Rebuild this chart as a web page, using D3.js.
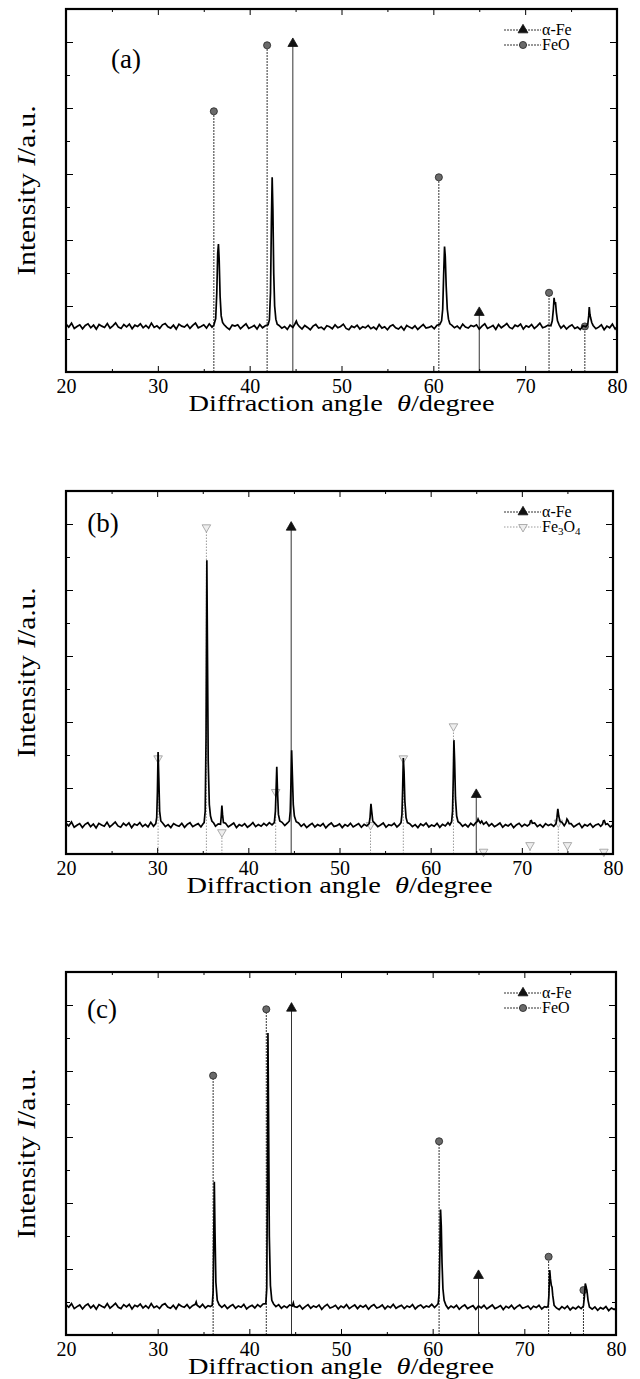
<!DOCTYPE html>
<html>
<head>
<meta charset="utf-8">
<script src="https://cdn.jsdelivr.net/npm/d3@7"></script>
<style>
  body { margin: 0; background: #fff; }
  svg { display: block; }
</style>
</head>
<body>
<svg id="graph"></svg>
<script>
const width = 640, height = 1379;

// x axis (2θ, degree) and y axis (arbitrary units)
const xMajor = [20, 30, 40, 50, 60, 70, 80];
const xMinor = [25, 35, 45, 55, 65, 75];
const yMajor = [2, 4, 6, 8, 10];
const yMinor = [1, 3, 5, 7, 9];

// measured scans, [angle, intensity]
const scanA = [
  [20.0,1.45],[20.3,1.36],[20.6,1.48],[20.9,1.32],[21.2,1.38],[21.5,1.43],[21.8,1.31],[22.1,1.41],[22.4,1.46],[22.7,1.34],
  [23.0,1.42],[23.3,1.30],[23.6,1.44],[23.9,1.39],[24.2,1.35],[24.5,1.47],[24.8,1.33],[25.1,1.40],[25.4,1.49],[25.7,1.36],
  [26.0,1.32],[26.3,1.44],[26.6,1.37],[26.9,1.45],[27.2,1.31],[27.5,1.42],[27.8,1.38],[28.1,1.46],[28.4,1.34],[28.7,1.41],
  [29.0,1.33],[29.3,1.48],[29.6,1.35],[29.9,1.40],[30.2,1.32],[30.5,1.43],[30.8,1.47],[31.1,1.37],[31.4,1.33],[31.7,1.42],
  [32.0,1.30],[32.3,1.45],[32.6,1.39],[32.9,1.36],[33.2,1.44],[33.5,1.32],[33.8,1.41],[34.1,1.48],[34.4,1.34],[34.7,1.38],
  [35.0,1.43],[35.3,1.33],[35.6,1.46],[35.9,1.36],[36.1,1.42],[36.3,1.62],[36.42,2.4],[36.52,3.6],[36.6,3.88],[36.68,3.4],
  [36.78,2.3],[36.9,1.7],[37.05,1.5],[37.2,1.44],[37.5,1.35],[37.8,1.29],[38.1,1.42],[38.4,1.39],[38.7,1.43],[39.0,1.31],
  [39.3,1.39],[39.6,1.46],[39.9,1.32],[40.2,1.36],[40.5,1.41],[40.8,1.30],[41.1,1.44],[41.4,1.34],[41.7,1.40],[42.0,1.43],
  [42.15,1.58],[42.27,2.4],[42.37,4.6],[42.45,5.9],[42.53,4.9],[42.62,3.0],[42.72,2.0],[42.85,1.6],[43.0,1.45],[43.2,1.41],
  [43.5,1.33],[43.8,1.38],[44.1,1.29],[44.4,1.42],[44.7,1.35],[44.95,1.47],[45.08,1.54],[45.2,1.45],[45.4,1.38],[45.7,1.30],
  [46.0,1.41],[46.3,1.35],[46.6,1.28],[46.9,1.39],[47.2,1.44],[47.5,1.33],[47.8,1.36],[48.1,1.29],[48.4,1.40],[48.7,1.37],
  [49.0,1.31],[49.3,1.43],[49.6,1.34],[49.9,1.38],[50.2,1.45],[50.5,1.32],[50.8,1.28],[51.1,1.39],[51.4,1.35],[51.7,1.42],
  [52.0,1.30],[52.3,1.37],[52.6,1.34],[52.9,1.41],[53.2,1.31],[53.5,1.36],[53.8,1.29],[54.1,1.44],[54.4,1.33],[54.7,1.37],
  [55.0,1.28],[55.3,1.39],[55.6,1.43],[55.9,1.34],[56.2,1.30],[56.5,1.38],[56.8,1.27],[57.1,1.41],[57.4,1.36],[57.7,1.32],
  [58.0,1.40],[58.3,1.29],[58.6,1.37],[58.9,1.44],[59.2,1.33],[59.5,1.35],[59.8,1.39],[60.1,1.31],[60.4,1.42],[60.7,1.44],
  [60.9,1.55],[61.02,1.9],[61.12,2.9],[61.22,3.8],[61.3,3.5],[61.4,2.6],[61.52,1.9],[61.65,1.6],[61.8,1.46],[62.0,1.42],
  [62.3,1.34],[62.6,1.39],[62.9,1.31],[63.2,1.45],[63.5,1.36],[63.8,1.33],[64.1,1.41],[64.4,1.38],[64.7,1.43],[65.0,1.30],
  [65.3,1.39],[65.6,1.46],[65.9,1.32],[66.2,1.36],[66.5,1.41],[66.8,1.29],[67.1,1.44],[67.4,1.34],[67.7,1.40],[68.0,1.47],
  [68.3,1.35],[68.6,1.31],[68.9,1.42],[69.2,1.38],[69.5,1.45],[69.8,1.30],[70.1,1.40],[70.4,1.36],[70.7,1.44],[71.0,1.32],
  [71.3,1.39],[71.6,1.48],[71.9,1.34],[72.2,1.37],[72.5,1.42],[72.8,1.40],[72.95,1.55],[73.07,1.9],[73.15,2.25],[73.22,2.05],
  [73.3,2.12],[73.4,1.8],[73.52,1.55],[73.7,1.43],[73.9,1.33],[74.2,1.41],[74.5,1.30],[74.8,1.38],[75.1,1.43],[75.4,1.32],
  [75.7,1.36],[76.0,1.29],[76.3,1.40],[76.6,1.37],[76.82,1.45],[76.92,1.7],[76.98,1.97],[77.05,1.75],[77.12,1.65],[77.25,1.5],
  [77.4,1.41],[77.7,1.31],[78.0,1.36],[78.3,1.43],[78.6,1.28],[78.9,1.39],[79.2,1.34],[79.5,1.45],[79.8,1.30],[80.0,1.37]
];

const scanB = [
  [20.0,0.93],[20.3,0.85],[20.6,0.97],[20.9,0.81],[21.2,0.87],[21.5,0.92],[21.8,0.80],[22.1,0.90],[22.4,0.95],[22.7,0.83],
  [23.0,0.91],[23.3,0.79],[23.6,0.93],[23.9,0.88],[24.2,0.84],[24.5,0.96],[24.8,0.82],[25.1,0.89],[25.4,0.97],[25.7,0.85],
  [26.0,0.81],[26.3,0.93],[26.6,0.86],[26.9,0.94],[27.2,0.80],[27.5,0.91],[27.8,0.87],[28.1,0.95],[28.4,0.83],[28.7,0.90],
  [29.0,0.82],[29.3,0.96],[29.6,0.84],[29.85,0.92],[29.95,1.1],[30.03,1.9],[30.1,3.09],[30.18,2.3],[30.27,1.3],[30.4,1.0],
  [30.6,0.94],[30.9,0.83],[31.2,0.89],[31.5,0.80],[31.8,0.92],[32.1,0.87],[32.4,0.84],[32.7,0.93],[33.0,0.81],[33.3,0.90],
  [33.6,0.95],[33.9,0.83],[34.2,0.88],[34.5,0.92],[34.8,0.82],[35.0,0.90],[35.15,0.95],[35.27,1.3],[35.36,3.5],[35.45,8.9],
  [35.52,6.0],[35.6,2.8],[35.72,1.5],[35.85,1.15],[36.0,1.0],[36.2,0.94],[36.4,0.84],[36.7,0.91],[36.95,0.90],[37.03,1.15],
  [37.1,1.47],[37.17,1.2],[37.27,0.95],[37.5,0.93],[37.8,0.82],[38.1,0.88],[38.4,0.94],[38.7,0.80],[39.0,0.89],[39.3,0.85],
  [39.6,0.92],[39.9,0.81],[40.2,0.87],[40.5,0.95],[40.8,0.83],[41.1,0.89],[41.4,0.84],[41.7,0.93],[42.0,0.86],[42.3,0.95],
  [42.6,0.88],[42.85,0.95],[42.97,1.3],[43.05,2.0],[43.12,2.64],[43.2,1.9],[43.3,1.2],[43.45,1.0],[43.7,0.96],[44.0,0.86],
  [44.3,0.94],[44.5,1.0],[44.6,1.3],[44.68,2.2],[44.75,3.14],[44.83,2.4],[44.93,1.5],[45.05,1.15],[45.25,0.98],[45.5,0.94],
  [45.8,0.84],[46.1,0.91],[46.4,0.80],[46.7,0.87],[47.0,0.93],[47.3,0.82],[47.6,0.89],[47.9,0.85],[48.2,0.92],[48.5,0.79],
  [48.8,0.88],[49.1,0.94],[49.4,0.83],[49.7,0.86],[50.0,0.91],[50.3,0.80],[50.6,0.89],[50.9,0.84],[51.2,0.93],[51.5,0.82],
  [51.8,0.87],[52.1,0.92],[52.4,0.81],[52.7,0.90],[53.0,0.85],[53.25,0.92],[53.35,1.1],[53.45,1.52],[53.53,1.3],[53.65,1.0],
  [53.9,0.92],[54.2,0.83],[54.5,0.88],[54.8,0.94],[55.1,0.81],[55.4,0.89],[55.7,0.86],[56.0,0.93],[56.3,0.82],[56.55,0.88],
  [56.75,0.95],[56.85,1.2],[56.93,2.0],[57.0,2.91],[57.08,2.5],[57.17,1.6],[57.3,1.1],[57.45,0.95],[57.7,0.92],[58.0,0.83],
  [58.3,0.89],[58.6,0.80],[58.9,0.91],[59.2,0.86],[59.5,0.94],[59.8,0.82],[60.1,0.88],[60.4,0.84],[60.7,0.93],[61.0,0.81],
  [61.3,0.90],[61.6,0.85],[61.9,0.95],[62.1,0.88],[62.3,0.98],[62.4,1.3],[62.48,2.3],[62.55,3.45],[62.63,2.8],[62.72,1.7],
  [62.85,1.15],[63.0,0.98],[63.2,0.94],[63.5,0.84],[63.8,0.90],[64.1,0.82],[64.4,0.93],[64.7,0.86],[64.95,0.95],[65.1,0.98],
  [65.2,1.06],[65.3,1.0],[65.45,0.94],[65.6,1.00],[65.8,0.90],[66.1,0.97],[66.4,0.85],[66.7,0.92],[67.0,0.83],[67.3,0.88],
  [67.6,0.94],[67.9,0.81],[68.2,0.89],[68.5,0.85],[68.8,0.92],[69.1,0.80],[69.4,0.88],[69.7,0.93],[70.0,0.83],[70.3,0.90],
  [70.6,0.85],[70.85,0.90],[70.95,1.0],[71.05,1.01],[71.15,0.93],[71.4,0.94],[71.7,0.83],[72.0,0.89],[72.3,0.81],[72.6,0.92],
  [72.9,0.86],[73.2,0.90],[73.5,0.84],[73.75,0.92],[73.85,1.1],[73.95,1.37],[74.05,1.15],[74.2,0.98],[74.4,0.96],[74.65,0.86],
  [74.85,0.95],[74.95,1.06],[75.05,1.02],[75.2,0.92],[75.4,0.92],[75.7,0.82],[76.0,0.88],[76.3,0.93],[76.6,0.80],[76.9,0.89],
  [77.2,0.85],[77.5,0.92],[77.8,0.81],[78.1,0.88],[78.4,0.91],[78.65,0.84],[78.85,0.90],[78.95,1.0],[79.05,1.01],[79.2,0.90],
  [79.4,0.92],[79.7,0.82],[80.0,0.88]
];

const scanC = [
  [20.0,0.92],[20.3,0.84],[20.6,0.95],[20.9,0.80],[21.2,0.86],[21.5,0.91],[21.8,0.79],[22.1,0.89],[22.4,0.94],[22.7,0.82],
  [23.0,0.90],[23.3,0.78],[23.6,0.92],[23.9,0.87],[24.2,0.83],[24.5,0.95],[24.8,0.81],[25.1,0.88],[25.4,0.96],[25.7,0.84],
  [26.0,0.80],[26.3,0.92],[26.6,0.85],[26.9,0.93],[27.2,0.79],[27.5,0.90],[27.8,0.86],[28.1,0.94],[28.4,0.82],[28.7,0.89],
  [29.0,0.81],[29.3,0.95],[29.6,0.83],[29.9,0.88],[30.2,0.80],[30.5,0.91],[30.8,0.95],[31.1,0.85],[31.4,0.81],[31.7,0.90],
  [32.0,0.79],[32.3,0.93],[32.6,0.87],[32.9,0.84],[33.2,0.92],[33.5,0.81],[33.8,0.89],[34.1,0.93],[34.2,1.0],[34.3,0.90],
  [34.6,0.84],[34.9,0.93],[35.2,0.82],[35.5,0.89],[35.75,0.86],[35.95,0.9],[36.05,1.3],[36.12,3.0],[36.18,4.64],[36.25,3.2],
  [36.35,1.6],[36.5,1.05],[36.7,0.92],[37.0,0.84],[37.3,0.91],[37.6,0.80],[37.9,0.87],[38.2,0.92],[38.5,0.81],[38.8,0.88],
  [39.1,0.84],[39.4,0.93],[39.7,0.79],[40.0,0.86],[40.3,0.90],[40.6,0.82],[40.9,0.92],[41.2,0.85],[41.5,0.94],[41.8,0.95],
  [41.9,1.4],[41.97,4.5],[42.03,9.15],[42.1,6.5],[42.18,3.0],[42.3,1.5],[42.45,1.05],[42.65,0.94],[42.9,0.86],[43.2,0.92],
  [43.5,0.81],[43.8,0.88],[44.1,0.83],[44.4,0.91],[44.7,0.88],[44.8,0.97],[44.9,0.86],[45.2,0.84],[45.5,0.90],[45.8,0.79],
  [46.1,0.86],[46.4,0.92],[46.7,0.81],[47.0,0.88],[47.3,0.84],[47.6,0.91],[47.9,0.78],[48.2,0.87],[48.5,0.93],[48.8,0.82],
  [49.1,0.85],[49.4,0.90],[49.7,0.79],[50.0,0.88],[50.3,0.83],[50.6,0.92],[50.9,0.80],[51.2,0.86],[51.5,0.91],[51.8,0.80],
  [52.1,0.89],[52.4,0.84],[52.7,0.90],[53.0,0.78],[53.3,0.87],[53.6,0.92],[53.9,0.82],[54.2,0.85],[54.5,0.91],[54.8,0.79],
  [55.1,0.88],[55.4,0.83],[55.7,0.93],[56.0,0.81],[56.3,0.86],[56.6,0.90],[56.9,0.80],[57.2,0.88],[57.5,0.84],[57.8,0.92],
  [58.1,0.79],[58.4,0.87],[58.7,0.91],[59.0,0.82],[59.3,0.88],[59.6,0.85],[59.9,0.93],[60.2,0.83],[60.45,0.90],[60.6,0.95],
  [60.7,1.25],[60.78,2.4],[60.86,3.8],[60.94,3.3],[61.02,2.2],[61.12,1.4],[61.25,1.05],[61.45,0.90],[61.7,0.80],[62.0,0.88],
  [62.3,0.83],[62.6,0.90],[62.9,0.78],[63.2,0.86],[63.5,0.91],[63.8,0.80],[64.1,0.85],[64.4,0.89],[64.7,0.78],[65.0,0.88],
  [65.3,0.82],[65.6,0.90],[65.9,0.79],[66.2,0.85],[66.5,0.91],[66.8,0.80],[67.1,0.84],[67.4,0.89],[67.7,0.77],[68.0,0.87],
  [68.3,0.82],[68.6,0.90],[68.9,0.79],[69.2,0.86],[69.5,0.91],[69.8,0.81],[70.1,0.84],[70.4,0.88],[70.7,0.78],[71.0,0.87],
  [71.3,0.83],[71.6,0.90],[71.9,0.79],[72.2,0.86],[72.45,0.84],[72.6,0.88],[72.68,1.2],[72.77,1.97],[72.85,1.7],[72.95,1.5],
  [73.02,1.45],[73.1,1.2],[73.25,0.9],[73.5,0.82],[73.8,0.77],[74.1,0.86],[74.4,0.80],[74.7,0.88],[75.0,0.76],[75.3,0.84],
  [75.6,0.79],[75.9,0.87],[76.2,0.80],[76.45,0.88],[76.55,1.15],[76.65,1.56],[76.75,1.45],[76.85,1.3],[76.95,1.05],[77.1,0.85],
  [77.4,0.78],[77.7,0.85],[78.0,0.75],[78.3,0.83],[78.6,0.79],[78.9,0.86],[79.2,0.74],[79.5,0.82],[79.8,0.77],[80.0,0.81]
];

// reference (JCPDS) lines, [angle, marker height]
const alphaFeA = [[44.7, 9.95], [65.0, 1.8]];
const feoA = [[36.1, 7.9], [41.9, 9.9], [60.6, 5.9], [72.6, 2.4], [76.5, 1.38]];
const alphaFeB = [[44.7, 9.9], [65.0, 1.8]];
const fe3o4B = [[30.1, 2.9], [35.4, 9.9], [37.1, 0.66], [43.0, 1.88], [53.4, 0.88], [57.0, 2.9],
                [62.5, 3.87], [65.8, 0.07], [70.9, 0.27], [74.0, 0.95], [75.0, 0.27], [79.0, 0.07]];
const alphaFeC = [[44.6, 9.9], [65.0, 1.8]];
const feoC = [[36.05, 7.86], [41.85, 9.87], [60.7, 5.87], [72.65, 2.37], [76.45, 1.36]];

const phaseNames = { alpha: "α-Fe", feo: "FeO", fe3o4: "Fe3O4" };

// look of each phase
const phaseStyle = {
    alpha: { stroke: "#333", dash: null, legendDash: "2,1", symbol: d3.symbolTriangle, size: 42, rotate: 0, fill: "#111", mstroke: "#111" },
    feo:   { stroke: "#333", dash: "2,1", legendDash: "2,1", symbol: d3.symbolCircle, size: 40, rotate: 0, fill: "#6a6a6a", mstroke: "#222" },
    fe3o4: { stroke: "#9a9a9a", dash: "1.5,1.5", legendDash: "1.5,1.5", symbol: d3.symbolTriangle, size: 32, rotate: 180, fill: "#eee", mstroke: "#999" }
};

const panels = [
    { top: 9,   bottom: 372,  left: 66, right: 617, scan: scanA, label: "(a)", lx: 126, ly: 68,
      phases: [["alpha", alphaFeA], ["feo", feoA]] },
    { top: 491, bottom: 854,  left: 66, right: 613, scan: scanB, label: "(b)", lx: 103, ly: 532,
      phases: [["alpha", alphaFeB], ["fe3o4", fe3o4B]] },
    { top: 972, bottom: 1335, left: 66, right: 616, scan: scanC, label: "(c)", lx: 102, ly: 1018,
      phases: [["alpha", alphaFeC], ["feo", feoC]] }
];

const svg = d3.select("#graph").attr("width", width).attr("height", height);
const serif = "Liberation Serif";

const drawMarker = (g, kind, x, y) => {
    const st = phaseStyle[kind];
    g.append("path")
        .attr("d", d3.symbol().type(st.symbol).size(st.size)())
        .attr("transform", `translate(${x},${y}) rotate(${st.rotate})`)
        .attr("fill", st.fill)
        .attr("stroke", st.mstroke)
        .attr("stroke-width", 0.8);
};

const styleAxis = (g) => {
    g.select(".domain").remove();
    g.selectAll(".tick line").attr("stroke", "#000").attr("stroke-width", 1);
};

const drawPanel = (p) => {
    const g = svg.append("g");
    const x = d3.scaleLinear().domain([20, 80]).range([p.left, p.right]);
    const y = d3.scaleLinear().domain([0, 11]).range([p.bottom, p.top]);

    // reference stems
    p.phases.forEach(([kind, stems]) => {
        const st = phaseStyle[kind];
        g.selectAll(null).data(stems).enter().append("line")
            .attr("x1", d => x(d[0])).attr("x2", d => x(d[0]))
            .attr("y1", y(0)).attr("y2", d => y(d[1]))
            .attr("stroke", st.stroke)
            .attr("stroke-width", 1)
            .attr("stroke-dasharray", st.dash);
        stems.forEach(d => drawMarker(g, kind, x(d[0]), y(d[1])));
    });

    // diffraction pattern
    const line = d3.line().x(d => x(d[0])).y(d => y(d[1]));
    g.append("path")
        .datum(p.scan)
        .attr("d", line)
        .attr("fill", "none")
        .attr("stroke", "#000")
        .attr("stroke-width", 1.7)
        .attr("stroke-linejoin", "miter");

    // ticks on all four sides, pointing inward
    const bottomMajor = g.append("g").attr("transform", `translate(0,${p.bottom})`)
        .call(d3.axisBottom(x).tickValues(xMajor).tickSize(-6).tickPadding(7).tickFormat(d3.format("d")));
    styleAxis(bottomMajor);
    bottomMajor.selectAll(".tick line").filter(d => d === 20 || d === 80).remove();
    bottomMajor.selectAll("text")
        .attr("font-family", serif).attr("font-size", 20).attr("fill", "#000");
    styleAxis(g.append("g").attr("transform", `translate(0,${p.bottom})`)
        .call(d3.axisBottom(x).tickValues(xMinor).tickSize(-3).tickFormat("")));
    styleAxis(g.append("g").attr("transform", `translate(0,${p.top})`)
        .call(d3.axisTop(x).tickValues(xMajor.slice(1, -1)).tickSize(-6).tickFormat("")));
    styleAxis(g.append("g").attr("transform", `translate(0,${p.top})`)
        .call(d3.axisTop(x).tickValues(xMinor).tickSize(-3).tickFormat("")));
    styleAxis(g.append("g").attr("transform", `translate(${p.left},0)`)
        .call(d3.axisLeft(y).tickValues(yMajor).tickSize(-7).tickFormat("")));
    styleAxis(g.append("g").attr("transform", `translate(${p.left},0)`)
        .call(d3.axisLeft(y).tickValues(yMinor).tickSize(-4).tickFormat("")));
    styleAxis(g.append("g").attr("transform", `translate(${p.right},0)`)
        .call(d3.axisRight(y).tickValues(yMajor).tickSize(-7).tickFormat("")));
    styleAxis(g.append("g").attr("transform", `translate(${p.right},0)`)
        .call(d3.axisRight(y).tickValues(yMinor).tickSize(-4).tickFormat("")));

    // frame
    g.append("rect")
        .attr("x", p.left).attr("y", p.top)
        .attr("width", p.right - p.left).attr("height", p.bottom - p.top)
        .attr("fill", "none").attr("stroke", "#000").attr("stroke-width", 2.2);

    // panel label
    g.append("text").attr("x", p.lx).attr("y", p.ly)
        .attr("text-anchor", "middle")
        .attr("font-family", serif).attr("font-size", 27)
        .text(p.label);

    // legend
    p.phases.forEach(([kind], i) => {
        const st = phaseStyle[kind];
        const ly = p.top + 21 + i * 15;
        g.append("line").attr("x1", 504).attr("x2", 541).attr("y1", ly).attr("y2", ly)
            .attr("stroke", st.stroke).attr("stroke-width", 1).attr("stroke-dasharray", st.legendDash);
        drawMarker(g, kind, 523, ly);
        const t = g.append("text").attr("x", 542).attr("y", ly + 5)
            .attr("font-family", serif).attr("font-size", 16);
        if (kind === "fe3o4") {
            t.append("tspan").text("Fe");
            t.append("tspan").attr("font-size", 11).attr("dy", 3).text("3");
            t.append("tspan").attr("dy", -3).text("O");
            t.append("tspan").attr("font-size", 11).attr("dy", 3).text("4");
        } else {
            t.text(phaseNames[kind]);
        }
    });

    // axis titles
    const cx = (p.left + p.right) / 2;
    const xt = g.append("text").attr("x", cx).attr("y", p.bottom + 39)
        .attr("text-anchor", "middle")
        .attr("font-family", serif).attr("font-size", 23)
        .attr("textLength", 306).attr("lengthAdjust", "spacingAndGlyphs");
    xt.append("tspan").text("Diffraction angle\u00a0\u00a0");
    xt.append("tspan").attr("font-style", "italic").text("θ");
    xt.append("tspan").text("/degree");

    const cy = (p.top + p.bottom) / 2;
    const yt = g.append("text")
        .attr("transform", `translate(35,${cy}) rotate(-90)`)
        .attr("text-anchor", "middle")
        .attr("font-family", serif).attr("font-size", 25)
        .attr("textLength", 170).attr("lengthAdjust", "spacingAndGlyphs");
    yt.append("tspan").text("Intensity\u00a0");
    yt.append("tspan").attr("font-style", "italic").text("I");
    yt.append("tspan").text("/a.u.");
};

panels.forEach(drawPanel);
</script>
</body>
</html>
